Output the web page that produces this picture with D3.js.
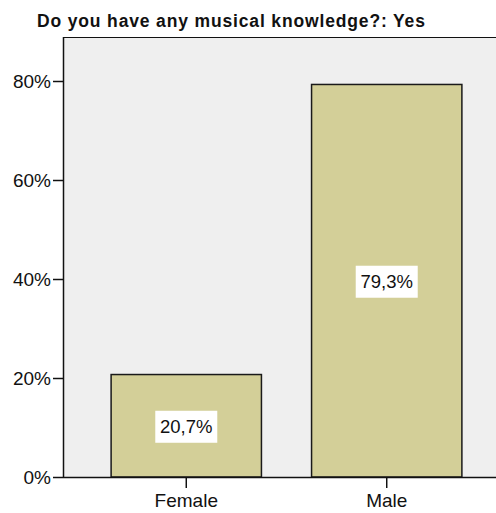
<!DOCTYPE html>
<html>
<head>
<meta charset="utf-8">
<script src="https://cdn.jsdelivr.net/npm/d3@7"></script>
<style>
  html, body { margin: 0; padding: 0; background: #ffffff; }
  svg { display: block; }
</style>
</head>
<body>
<svg id="chart" width="496" height="513"></svg>
<script>
// Share of respondents with musical knowledge, by gender
const categories = ["Female", "Male"];
const percents = [20.7, 79.3];
const valueLabels = ["20,7%", "79,3%"];
const yTicks = [0, 20, 40, 60, 80];
const yTickLabels = ["0%", "20%", "40%", "60%", "80%"];
const title = "Do you have any musical knowledge?: Yes";

const svg = d3.select("#chart");
const W = 496, H = 513;
const plot = { left: 63, top: 37, right: 512, bottom: 477 };
const FONT = "Liberation Sans, Arial, sans-serif";

const x = d3.scaleBand()
  .domain(categories)
  .range([61, 512])
  .padding(0.25);

const y = d3.scaleLinear()
  .domain([0, 80])
  .range([plot.bottom, 81]);

// plot background
svg.append("rect")
  .attr("x", plot.left).attr("y", plot.top)
  .attr("width", W - plot.left + 10).attr("height", plot.bottom - plot.top)
  .attr("fill", "#efefef");

// top frame line
svg.append("line")
  .attr("x1", plot.left).attr("x2", W + 5)
  .attr("y1", plot.top + 0.5).attr("y2", plot.top + 0.5)
  .attr("stroke", "#111").attr("stroke-width", 1.2);

// title
svg.append("text")
  .attr("x", 37).attr("y", 27)
  .attr("font-family", FONT)
  .attr("font-weight", "bold")
  .attr("font-size", 17.5)
  .attr("letter-spacing", 0.85)
  .attr("fill", "#111")
  .text(title);

// bars
svg.append("g").selectAll("rect")
  .data(categories)
  .join("rect")
  .attr("x", d => x(d))
  .attr("y", (d, i) => y(percents[i]))
  .attr("width", x.bandwidth())
  .attr("height", (d, i) => y(0) - y(percents[i]))
  .attr("fill", "#d3cf98")
  .attr("stroke", "#1a1a1a")
  .attr("stroke-width", 1.5);

// value labels in white boxes
const lbl = svg.append("g").selectAll("g")
  .data(categories)
  .join("g")
  .attr("transform", (d, i) => `translate(${x(d) + x.bandwidth() / 2},${(y(0) + y(percents[i])) / 2 + 1})`);
lbl.append("rect")
  .attr("x", -31).attr("y", -16)
  .attr("width", 62).attr("height", 32)
  .attr("fill", "#ffffff");
lbl.append("text")
  .attr("text-anchor", "middle")
  .attr("dy", "0.36em")
  .attr("font-family", FONT)
  .attr("font-size", 18.5)
  .attr("fill", "#111")
  .text((d, i) => valueLabels[i]);

// y axis
const yAxis = d3.axisLeft(y)
  .tickValues(yTicks)
  .tickSize(10)
  .tickPadding(2)
  .tickFormat((d, i) => yTickLabels[i]);
const gy = svg.append("g")
  .attr("transform", `translate(${plot.left},0)`)
  .call(yAxis);
gy.select(".domain")
  .attr("d", `M0.5,${plot.top}V${plot.bottom}`)
  .attr("stroke", "#111").attr("stroke-width", 1.5);
gy.selectAll(".tick line").attr("stroke", "#111").attr("stroke-width", 1.5);
gy.selectAll(".tick text")
  .attr("font-family", FONT)
  .attr("font-size", 19)
  .attr("fill", "#111");

// x axis
const xAxis = d3.axisBottom(x).tickSize(11).tickPadding(6);
const gx = svg.append("g")
  .attr("transform", `translate(0,${plot.bottom})`)
  .call(xAxis);
gx.select(".domain")
  .attr("d", `M${plot.left},0.5H${W + 5}`)
  .attr("stroke", "#111").attr("stroke-width", 1.5);
gx.selectAll(".tick line").attr("stroke", "#111").attr("stroke-width", 1.5);
gx.selectAll(".tick text")
  .attr("font-family", FONT)
  .attr("font-size", 19)
  .attr("fill", "#111");
</script>
</body>
</html>
